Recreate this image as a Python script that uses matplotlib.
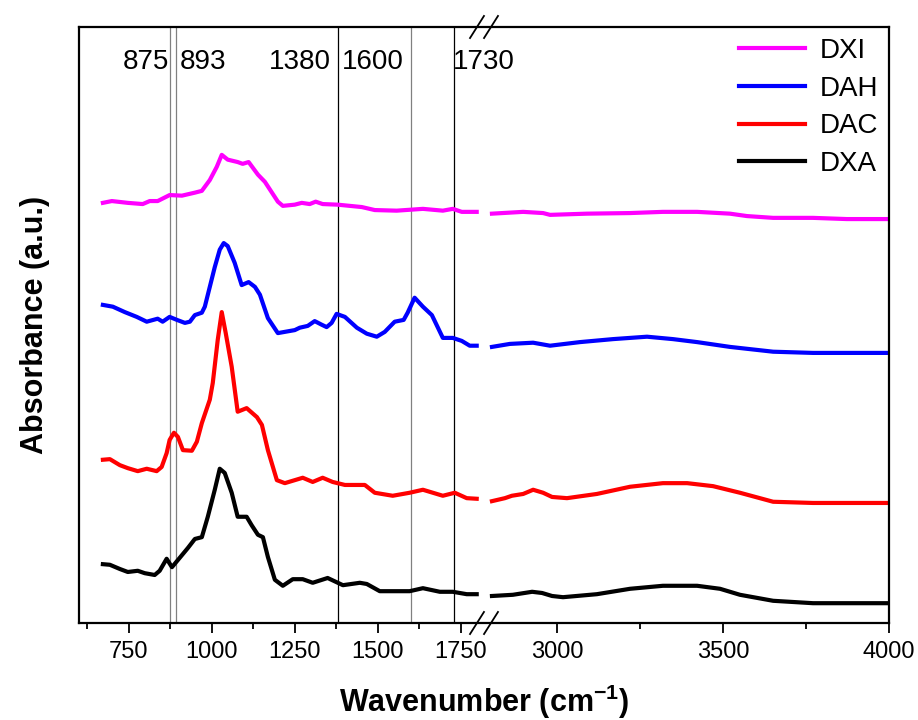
import numpy as np
import matplotlib
matplotlib.use('Agg')
import matplotlib.pyplot as plt

plt.rcParams['font.family'] = ['Liberation Sans', 'DejaVu Sans']
plt.rcParams['mathtext.fontset'] = 'custom'
plt.rcParams['mathtext.bf'] = 'Liberation Sans:bold'
plt.rcParams['mathtext.rm'] = 'Liberation Sans'

# spectra, low range (600-1800) and high range (2800-4000), absorbance in a.u. (offset stacked)
dxi_wn_lo = [672, 699, 747, 792, 813, 837, 873, 910, 949, 970, 994, 1015, 1030, 1048, 1078, 1093, 1111,
             1139, 1160, 1199, 1214, 1250, 1271, 1295, 1313, 1334, 1379, 1452, 1491, 1557, 1636, 1696,
             1726, 1753, 1798]
dxi_lo = [70.0, 70.3, 70.0, 69.8, 70.3, 70.3, 71.3, 71.2, 71.7, 72.0, 73.8, 76.0, 78.0, 77.2, 76.8, 76.5,
          76.8, 74.7, 73.5, 70.2, 69.5, 69.7, 70.0, 69.8, 70.2, 69.8, 69.7, 69.3, 68.8, 68.7, 69.0, 68.7,
          69.0, 68.5, 68.5]
dxi_wn_hi = [2804, 2898, 2958, 2979, 3090, 3220, 3319, 3422, 3521, 3572, 3651, 3771, 3873, 4000]
dxi_hi = [68.2, 68.5, 68.3, 68.0, 68.2, 68.3, 68.5, 68.5, 68.2, 67.8, 67.5, 67.5, 67.3, 67.3]

dah_wn_lo = [672, 702, 738, 774, 804, 837, 852, 873, 895, 919, 934, 949, 970, 979, 994, 1009, 1024, 1036,
             1048, 1069, 1090, 1111, 1130, 1145, 1169, 1199, 1250, 1265, 1289, 1310, 1331, 1346, 1361,
             1376, 1401, 1437, 1467, 1497, 1521, 1551, 1578, 1590, 1611, 1636, 1663, 1696, 1726, 1753,
             1777, 1798]
dah_lo = [53.0, 52.7, 51.8, 51.0, 50.2, 50.7, 50.2, 51.0, 50.5, 50.0, 50.2, 51.3, 51.7, 52.7, 56.0, 59.3,
          62.2, 63.3, 62.8, 60.0, 56.3, 56.8, 56.0, 54.7, 50.8, 48.3, 48.8, 49.2, 49.5, 50.3, 49.7, 49.3,
          50.0, 51.5, 51.0, 49.2, 48.2, 47.7, 48.5, 50.2, 50.5, 51.7, 54.2, 52.7, 51.3, 47.5, 47.5, 47.0,
          46.2, 46.2]
dah_wn_hi = [2804, 2858, 2928, 2979, 3069, 3169, 3271, 3349, 3422, 3521, 3651, 3771, 4000]
dah_hi = [46.0, 46.5, 46.7, 46.2, 46.8, 47.3, 47.7, 47.3, 46.8, 46.0, 45.2, 45.0, 45.0]

dac_wn_lo = [672, 693, 723, 747, 777, 804, 834, 849, 864, 873, 886, 898, 913, 940, 955, 970, 994, 1003,
             1018, 1030, 1042, 1060, 1078, 1105, 1136, 1151, 1169, 1196, 1220, 1250, 1274, 1304, 1334,
             1364, 1401, 1461, 1491, 1545, 1596, 1636, 1696, 1732, 1768, 1798]
dac_lo = [27.2, 27.3, 26.3, 25.8, 25.3, 25.7, 25.3, 26.0, 28.3, 30.5, 31.7, 31.0, 28.8, 28.7, 30.2, 33.3,
          37.2, 40.0, 47.2, 51.8, 48.3, 42.7, 35.2, 35.8, 34.3, 33.0, 28.8, 23.8, 23.3, 23.8, 24.2, 23.5,
          24.2, 23.5, 23.0, 23.0, 21.7, 21.2, 21.7, 22.2, 21.2, 21.7, 20.8, 20.7]
dac_wn_hi = [2804, 2843, 2864, 2898, 2928, 2958, 2985, 3030, 3120, 3220, 3319, 3392, 3470, 3551, 3651,
             3771, 4000]
dac_hi = [20.3, 20.8, 21.2, 21.5, 22.2, 21.7, 21.0, 20.8, 21.5, 22.7, 23.3, 23.3, 22.8, 21.7, 20.2, 20.0,
          20.0]

dxa_wn_lo = [672, 693, 723, 747, 777, 798, 828, 843, 864, 880, 898, 928, 949, 970, 988, 1009, 1024, 1039,
             1060, 1078, 1105, 1120, 1139, 1154, 1169, 1190, 1214, 1244, 1274, 1304, 1349, 1395, 1446,
             1467, 1506, 1596, 1636, 1687, 1726, 1768, 1798]
dxa_lo = [9.8, 9.7, 9.0, 8.5, 8.7, 8.3, 8.0, 8.7, 10.7, 9.3, 10.5, 12.5, 14.0, 14.3, 17.7, 22.2, 25.7,
          25.0, 21.7, 17.7, 17.7, 16.3, 14.7, 14.3, 11.0, 7.2, 6.2, 7.3, 7.3, 6.7, 7.5, 6.3, 6.7, 6.5, 5.3,
          5.3, 5.8, 5.2, 5.2, 4.8, 4.8]
dxa_wn_hi = [2804, 2867, 2925, 2955, 2985, 3018, 3120, 3220, 3319, 3422, 3491, 3551, 3651, 3771, 4000]
dxa_hi = [4.5, 4.7, 5.2, 5.0, 4.5, 4.3, 4.8, 5.7, 6.2, 6.2, 5.7, 4.7, 3.7, 3.3, 3.3]

peaks = [875, 893, 1380, 1600, 1730]
peak_colors = ['#808080', '#808080', 'black', '#808080', 'black']

# broken axis: 1820-2780 cm-1 is cut out
BRK_LO, BRK_HI = 1820, 2780


def fwd(x):
    x = np.asarray(x, dtype=float)
    return np.where(x <= BRK_LO, x, np.where(x >= BRK_HI, x - (BRK_HI - BRK_LO), BRK_LO))


def inv(u):
    u = np.asarray(u, dtype=float)
    return np.where(u <= BRK_LO, u, u + (BRK_HI - BRK_LO))


fig = plt.figure(figsize=(9.18, 7.2), dpi=100)
ax = fig.add_axes([79 / 918, 1 - 623 / 720, 810 / 918, 596 / 720])
ax.set_xscale('function', functions=(fwd, inv))

series = [('DXI', '#FF00FF', dxi_wn_lo, dxi_lo, dxi_wn_hi, dxi_hi),
          ('DAH', '#0000FF', dah_wn_lo, dah_lo, dah_wn_hi, dah_hi),
          ('DAC', '#FF0000', dac_wn_lo, dac_lo, dac_wn_hi, dac_hi),
          ('DXA', '#000000', dxa_wn_lo, dxa_lo, dxa_wn_hi, dxa_hi)]
for name, col, wl, yl, wh, yh in series:
    ax.plot(wl, yl, color=col, lw=3, label=name, solid_joinstyle='round')
    ax.plot(wh, yh, color=col, lw=3, solid_joinstyle='round')

for p, c in zip(peaks, peak_colors):
    ax.axvline(p, color=c, lw=0.9, zorder=0)

ty = 93.5
ax.text(870, ty, '875', ha='right', va='center', fontsize=20)
ax.text(905, ty, '893', ha='left', va='center', fontsize=20)
ax.text(1358, ty, '1380', ha='right', va='center', fontsize=20)
ax.text(1393, ty, '1600', ha='left', va='center', fontsize=20)
ax.text(1727, ty, '1730', ha='left', va='center', fontsize=20)

ax.set_xlim(600, 4000)
ax.set_ylim(0, 99.3)
major = [750, 1000, 1250, 1500, 1750, 3000, 3500, 4000]
ax.set_xticks(major, labels=[str(v) for v in major])
ax.set_xticks([625, 875, 1125, 1375, 1625, 3250, 3750], minor=True)
ax.set_yticks([])
ax.tick_params(axis='x', which='major', direction='out', length=7, width=1.3, labelsize=17, pad=6)
ax.tick_params(axis='x', which='minor', direction='out', length=4.5, width=1.3)
for s in ax.spines.values():
    s.set_linewidth(1.6)

# break marks on top and bottom spines
xb = (fwd(BRK_LO) - 600) / (fwd(4000) - 600)
dx, dy, sep = 0.0086, 0.0185, 0.0173
for yb in (0, 1):
    for off in (-sep / 2, sep / 2):
        ax.plot([xb + off - dx, xb + off + dx], [yb - dy, yb + dy], color='black', lw=1.3,
                transform=ax.transAxes, clip_on=False)

ax.set_xlabel(r'Wavenumber (cm$^{\mathbf{-1}}$)', fontsize=22, fontweight='bold', labelpad=14)
ax.set_ylabel('Absorbance (a.u.)', fontsize=22, fontweight='bold', labelpad=21)

ax.legend(loc='upper right', bbox_to_anchor=(1.0, 1.0), frameon=False, fontsize=20,
          handlelength=2.4, handletextpad=0.5, labelspacing=0.42, borderaxespad=0.0)

fig.savefig('out.png', dpi=100)
